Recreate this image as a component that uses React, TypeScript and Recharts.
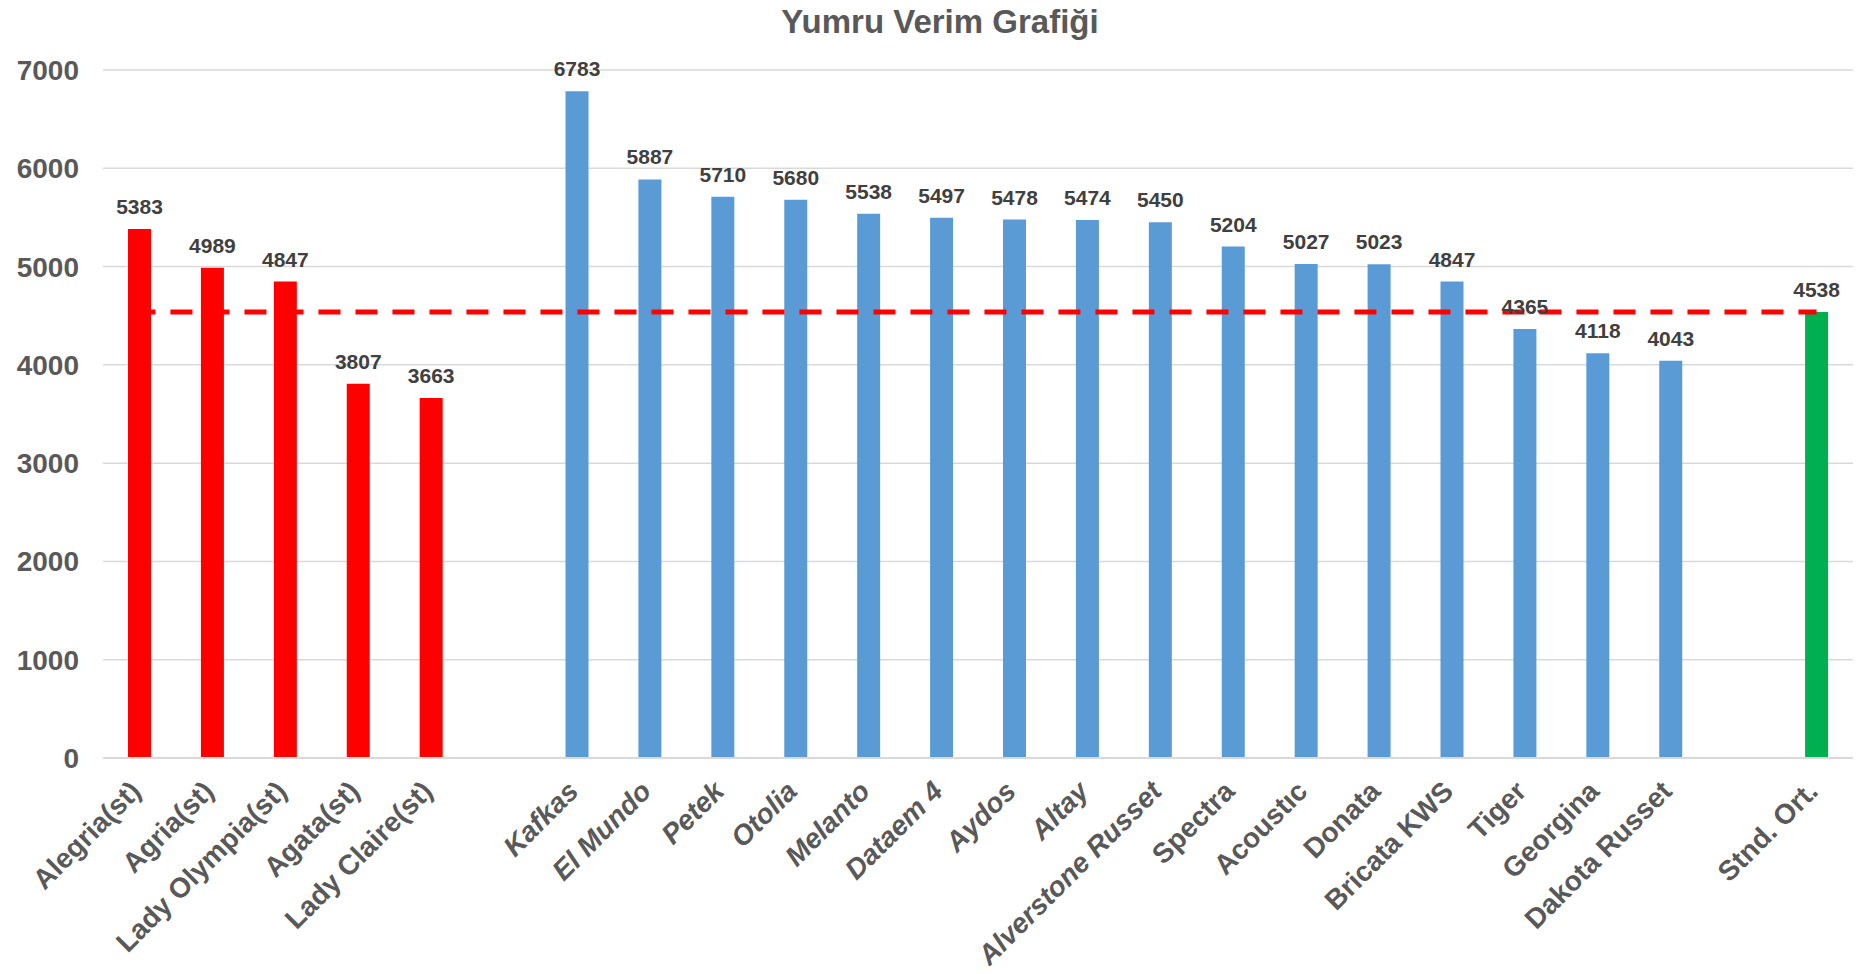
import { ComposedChart, Bar, Line, XAxis, YAxis, CartesianGrid, Cell, LabelList } from 'recharts'

// standard (control) varieties
const standardVarieties = ['Alegria(st)', 'Agria(st)', 'Lady Olympia(st)', 'Agata(st)', 'Lady Claire(st)']
const standardYields = [5383, 4989, 4847, 3807, 3663]

// tested varieties
const testVarieties = [
  'Kafkas', 'El Mundo', 'Petek', 'Otolia', 'Melanto', 'Dataem 4', 'Aydos', 'Altay',
  'Alverstone Russet', 'Spectra', 'Acoustıc', 'Donata', 'Bricata KWS', 'Tiger', 'Georgina', 'Dakota Russet',
]
const testYields = [6783, 5887, 5710, 5680, 5538, 5497, 5478, 5474, 5450, 5204, 5027, 5023, 4847, 4365, 4118, 4043]

// mean of the standards
const averageLabel = 'Stnd. Ort.'
const averageYield = 4538

// labels drawn in italics in the original
const italicLabels = ['Kafkas', 'El Mundo', 'Petek', 'Otolia', 'Melanto', 'Dataem 4', 'Aydos', 'Altay', 'Alverstone Russet']

const yTicks = [0, 1000, 2000, 3000, 4000, 5000, 6000, 7000]

const COLORS: Record<string, string> = {
  std: '#FF0000',
  test: '#5B9BD5',
  avg: '#00B050',
  gap: 'transparent',
}

const FONT = '"Liberation Sans", Arial, sans-serif'
const NARROW = '"Liberation Sans Narrow", "Arial Narrow", "Liberation Sans", sans-serif'

type Row = { name: string; value: number | null; kind: string; avg: number }

const rows: Row[] = [
  ...standardVarieties.map((name, i) => ({ name, value: standardYields[i], kind: 'std', avg: averageYield })),
  { name: '', value: null, kind: 'gap', avg: averageYield },
  ...testVarieties.map((name, i) => ({ name, value: testYields[i], kind: 'test', avg: averageYield })),
  { name: '', value: null, kind: 'gap', avg: averageYield },
  { name: averageLabel, value: averageYield, kind: 'avg', avg: averageYield },
]

function VarietyTick(props: any) {
  const { x, y, payload } = props
  const label = payload?.value
  if (!label) return <g />
  const tx = x + 3
  const ty = y + 27
  return (
    <text
      x={tx}
      y={ty}
      transform={`rotate(-45, ${tx}, ${ty})`}
      textAnchor="end"
      fontSize={28}
      fontWeight="bold"
      fontStyle={italicLabels.includes(label) ? 'italic' : 'normal'}
      fill="#595959"
      fontFamily={FONT}
    >
      {label}
    </text>
  )
}

export default function App() {
  return (
    <div style={{ margin: -8, position: 'relative', width: 1861, height: 974, background: '#fff' }}>
      <div
        style={{
          position: 'absolute',
          top: 5,
          left: 0,
          width: 1880,
          textAlign: 'center',
          fontFamily: FONT,
          fontWeight: 'bold',
          fontSize: 33,
          lineHeight: '33px',
          color: '#595959',
        }}
      >
        Yumru Verim Grafiği
      </div>
      <ComposedChart width={1861} height={974} data={rows} margin={{ top: 70, right: 8, bottom: 16, left: 0 }}>
        <CartesianGrid vertical={false} stroke="#d9d9d9" strokeWidth={1.5} />
        <XAxis
          dataKey="name"
          interval={0}
          height={200}
          tickLine={false}
          axisLine={{ stroke: '#d9d9d9', strokeWidth: 2 }}
          tick={(p: any) => <VarietyTick {...p} />}
        />
        <YAxis
          domain={[0, 7000]}
          ticks={yTicks}
          width={103}
          axisLine={false}
          tickLine={false}
          tickMargin={18}
          tick={{ fontSize: 28, fontWeight: 'bold', fill: '#595959', fontFamily: FONT }}
        />
        <Bar dataKey="value" barSize={23} isAnimationActive={false}>
          {rows.map((r, i) => (
            <Cell key={i} fill={COLORS[r.kind]} />
          ))}
          <LabelList
            dataKey="value"
            position="top"
            offset={15}
            fill="#404040"
            fontSize={21}
            fontWeight="bold"
            fontFamily={NARROW}
            formatter={(v: any) => (v == null ? '' : v)}
          />
        </Bar>
        <Line
          dataKey="avg"
          type="linear"
          stroke="#FF0000"
          strokeWidth={5}
          strokeDasharray="22 15"
          strokeDashoffset={6}
          dot={false}
          activeDot={false}
          isAnimationActive={false}
        />
      </ComposedChart>
    </div>
  )
}
